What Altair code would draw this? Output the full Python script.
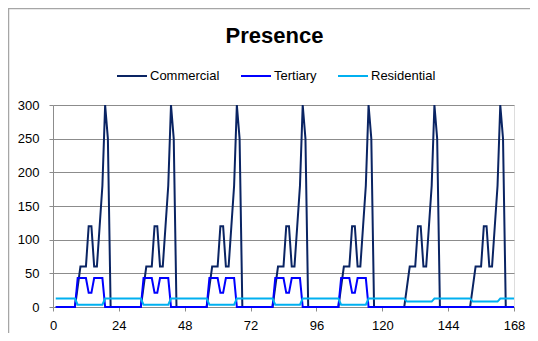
import altair as alt
import pandas as pd

# ---- data (hourly values, hours 1..168) ----
SERIES = ["Commercial", "Tertiary", "Residential"]
COLORS = ["#0A2463", "#0000FF", "#00B0F0"]

# one day profile, hour-of-day 1..24
COMMERCIAL_DAY = [0, 0, 0, 0, 0, 0, 0, 0, 30, 60, 60, 60,
                  120, 120, 60, 60, 120, 180, 300, 250, 0, 0, 0, 0]
TERTIARY_WEEKDAY = [0, 0, 0, 0, 0, 0, 0, 0, 43, 43, 43, 43,
                    21, 21, 43, 43, 43, 43, 0, 0, 0, 0, 0, 0]
TERTIARY_WEEKEND = [0, 0, 0, 0, 0, 0, 0, 0, 0, 0, 0, 0,
                    0, 0, 0, 0, 0, 0, 0, 0, 0, 0, 0, 0]
RESIDENTIAL_WEEKDAY = [12.5, 12.5, 12.5, 12.5, 12.5, 12.5, 12.5, 12.5, 3.5, 3.5, 3.5, 3.5,
                       3.5, 3.5, 3.5, 3.5, 3.5, 3.5, 12.5, 12.5, 12.5, 12.5, 12.5, 12.5]
RESIDENTIAL_WEEKEND = [12.5, 12.5, 12.5, 12.5, 12.5, 12.5, 12.5, 12.5, 8, 8, 8, 8,
                       8, 8, 8, 8, 8, 8, 12.5, 12.5, 12.5, 12.5, 12.5, 12.5]

# week: Mon-Fri weekday profiles, Sat-Sun weekend profiles
COMMERCIAL = COMMERCIAL_DAY * 7
TERTIARY = TERTIARY_WEEKDAY * 5 + TERTIARY_WEEKEND * 2
RESIDENTIAL = RESIDENTIAL_WEEKDAY * 5 + RESIDENTIAL_WEEKEND * 2
HOURS = list(range(1, 169))

X_TICKS = [0, 24, 48, 72, 96, 120, 144, 168]
Y_TICKS = [0, 50, 100, 150, 200, 250, 300]

rows = []
for name, vals in zip(SERIES, [COMMERCIAL, TERTIARY, RESIDENTIAL]):
    for h, v in zip(HOURS, vals):
        rows.append({"series": name, "hour": h, "value": v})
df = pd.DataFrame(rows)

W, H = 461, 202
PAD = {"left": 45, "top": 97, "right": 16, "bottom": 26}
FONT = "Liberation Sans"
GRAY = "#8C8C8C"

lines = alt.Chart(df).mark_line(strokeWidth=2).encode(
    x=alt.X("hour:Q",
            scale=alt.Scale(domain=[0, 168], nice=False, zero=False),
            axis=alt.Axis(values=X_TICKS, title=None, grid=False, tickSize=4,
                          labelPadding=8, labelFontSize=13, labelFont=FONT,
                          labelColor="#000000", domainColor=GRAY, tickColor=GRAY,
                          labelFlush=False)),
    y=alt.Y("value:Q",
            scale=alt.Scale(domain=[0, 300], nice=False),
            axis=alt.Axis(values=Y_TICKS, title=None, grid=True, gridColor=GRAY,
                          tickSize=4, labelPadding=10, labelFontSize=13, labelFont=FONT,
                          labelColor="#000000", domainColor=GRAY, tickColor=GRAY)),
    color=alt.Color("series:N",
                    scale=alt.Scale(domain=SERIES, range=COLORS),
                    sort=SERIES,
                    legend=alt.Legend(orient="none", legendX=63, legendY=-45,
                                      direction="horizontal", title=None,
                                      symbolType="stroke", symbolSize=900,
                                      symbolStrokeWidth=2, labelFontSize=13,
                                      labelFont=FONT, labelColor="#000000",
                                      labelOffset=2, columnPadding=17)),
)

frame_df = pd.DataFrame({"k": [0]})
top_border = alt.Chart(frame_df).mark_rule(color="#A6A6A6", strokeWidth=1.5).encode(
    x=alt.value(-45), x2=alt.value(W + 16), y=alt.value(-96.5))
left_border = alt.Chart(frame_df).mark_rule(color="#A6A6A6", strokeWidth=1.5).encode(
    x=alt.value(-44.5), y=alt.value(-97), y2=alt.value(H + 26))

chart = alt.layer(top_border, left_border, lines).properties(
    width=W, height=H,
    padding=PAD,
    autosize=alt.AutoSizeParams(type="none"),
    title=alt.TitleParams("Presence", fontSize=22, font=FONT, fontWeight="bold",
                          color="#000000", anchor="middle", frame="group",
                          baseline="alphabetic", offset=0, dx=-9, dy=57.5),
).configure_view(strokeWidth=0).configure(background="white")

chart.save("out.html", embed_options={"renderer": "svg", "actions": False})
